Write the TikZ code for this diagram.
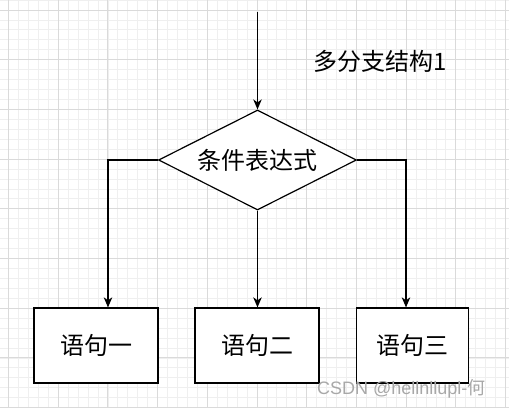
\documentclass[tikz,border=0pt]{standalone}
\usepackage{fontspec}
\setmainfont{Liberation Sans}
\newfontfamily\cjk{Noto Sans CJK SC}
\usetikzlibrary{shapes.geometric,arrows.meta}
\definecolor{gridminor}{HTML}{EFEFEF}
\definecolor{gridmajor}{HTML}{DADADA}
\definecolor{wmark}{HTML}{A8A8A8}
\tikzset{
  conn/.style={line width=1.2pt, -{Stealth[length=10pt,width=8.5pt,inset=3pt]}},
  stmt/.style={draw, line width=1.3pt, fill=white, minimum height=75pt, inner sep=0pt, font=\cjk\fontsize{24}{27}\selectfont},
  cond/.style={draw, line width=1.2pt, fill=white, diamond, aspect=2, minimum width=198pt, minimum height=100pt, inner sep=0pt, font=\cjk\fontsize{24}{27}\selectfont},
}
\begin{document}
\begin{tikzpicture}[x=1pt,y=-1pt]
\useasboundingbox (0,0) rectangle (509,408);
\fill[white] (0,0) rectangle (509,408);
% grid
\foreach \k in {-1,...,51} {
  \draw[gridminor, line width=0.8pt] ({8.5+9.94*\k},0) -- ({8.5+9.94*\k},408);
  \draw[gridminor, line width=0.8pt] (0,{10+9.94*\k}) -- (509,{10+9.94*\k});
}
\foreach \k in {-1,...,10} {
  \draw[gridmajor, line width=0.9pt] ({8.5+49.7*\k},0) -- ({8.5+49.7*\k},408);
  \draw[gridmajor, line width=0.9pt] (0,{10+49.7*\k}) -- (509,{10+49.7*\k});
}
% nodes
\coordinate (start) at (257.5,12);
\node[cond] (c) at (257.5,160) {条件表达式};
\node[stmt, minimum width=124pt] (s1) at (96,345.5) {语句一};
\node[stmt, minimum width=124pt] (s2) at (257,345.5) {语句二};
\node[stmt, minimum width=112pt] (s3) at (412.5,345.5) {语句三};
\node[font=\cjk\fontsize{24}{27}\selectfont] (title) at (380,61) {多分支结构1};
% connectors
\draw[conn] (start) -- (c.north);
\draw[conn] (c.west) -| ([xshift=12pt]s1.north);
\draw[conn] (c.south) -- (c.south |- s2.north);
\draw[conn] (c.east) -| ([xshift=-6.5pt]s3.north);
% watermark
\node[wmark, font=\fontsize{18}{20}\selectfont, inner sep=0pt, anchor=west] (wm) at (317,389) {CSDN @hellnllupl-{\cjk 何}};
\end{tikzpicture}
\end{document}
